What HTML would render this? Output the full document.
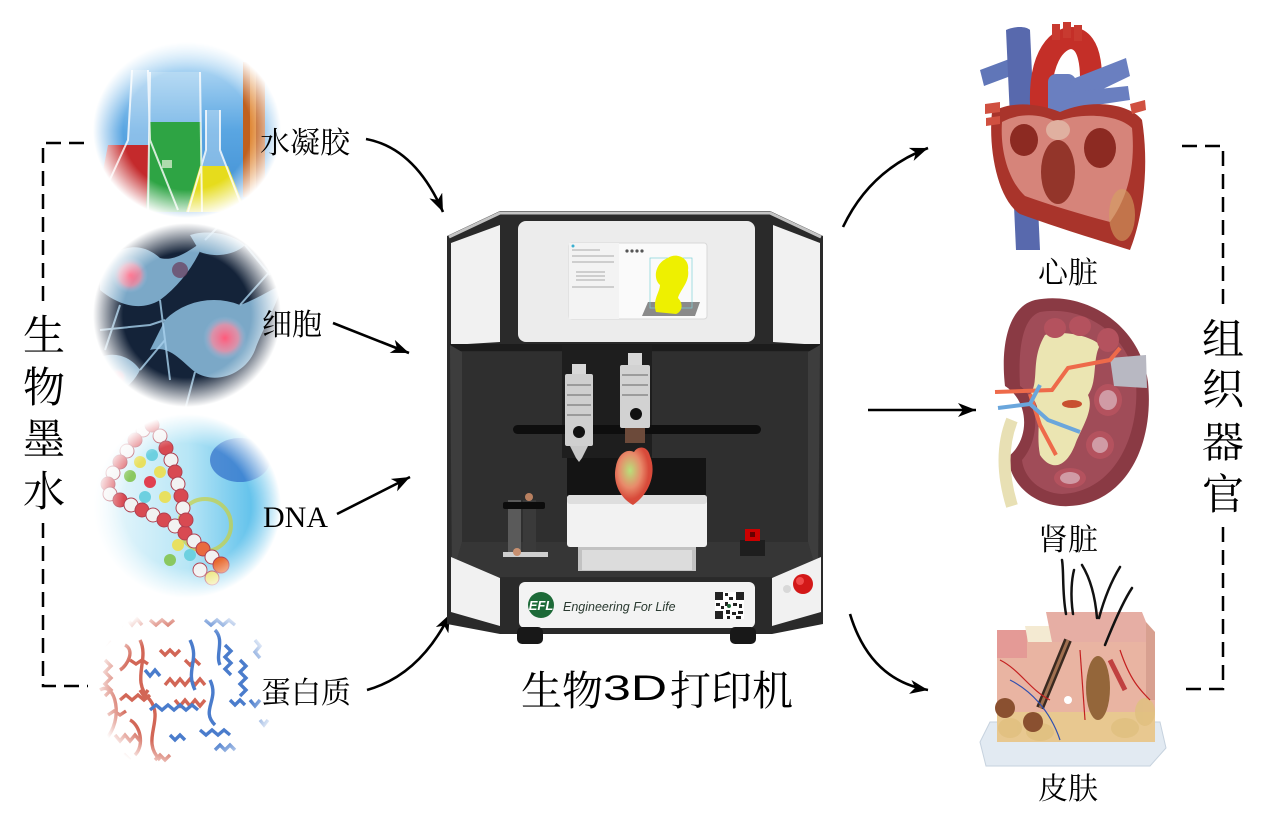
<!DOCTYPE html>
<html><head><meta charset="utf-8">
<style>
html,body{margin:0;padding:0;background:#fff;}
svg{display:block;}
.cjk{font-family:"Liberation Serif","Noto Serif CJK SC",serif;}
</style></head>
<body>
<svg width="1267" height="820" viewBox="0 0 1267 820" xmlns="http://www.w3.org/2000/svg">
<defs>
  <radialGradient id="fade">
    <stop offset="0" stop-color="#fff"/>
    <stop offset="0.68" stop-color="#fff"/>
    <stop offset="1" stop-color="#000"/>
  </radialGradient>
  <mask id="m1" maskContentUnits="userSpaceOnUse"><ellipse cx="187" cy="130" rx="94" ry="88" fill="url(#fade)"/></mask>
  <mask id="m2" maskContentUnits="userSpaceOnUse"><ellipse cx="187" cy="315" rx="94" ry="92" fill="url(#fade)"/></mask>
  <mask id="m3" maskContentUnits="userSpaceOnUse"><ellipse cx="187" cy="506" rx="94" ry="92" fill="url(#fade)"/></mask>
  <mask id="m4" maskContentUnits="userSpaceOnUse"><ellipse cx="187" cy="690" rx="94" ry="88" fill="url(#fade)"/></mask>
  <linearGradient id="sky" x1="0" y1="0" x2="0" y2="1">
    <stop offset="0" stop-color="#cfe9fa"/><stop offset="0.5" stop-color="#5aa6e2"/><stop offset="1" stop-color="#3b8ad0"/>
  </linearGradient>
  <linearGradient id="dnabg" x1="0" y1="0" x2="1" y2="0">
    <stop offset="0" stop-color="#f2fafd"/><stop offset="0.5" stop-color="#b8e6f6"/><stop offset="1" stop-color="#38b0e6"/>
  </linearGradient>
  <radialGradient id="nuc"><stop offset="0" stop-color="#ff5a7a"/><stop offset="0.6" stop-color="#ff8aa0" stop-opacity="0.7"/><stop offset="1" stop-color="#9cc8e8" stop-opacity="0"/></radialGradient>
  <radialGradient id="hrt" cx="0.4" cy="0.4"><stop offset="0" stop-color="#b8e07a"/><stop offset="0.6" stop-color="#e88a6a"/><stop offset="1" stop-color="#d84a3a"/></radialGradient>
  <marker id="ah" markerUnits="userSpaceOnUse" markerWidth="20" markerHeight="16" refX="18" refY="7" orient="auto">
    <path d="M0,0 L18,7 L0,14 L5,7 Z" fill="#000"/>
  </marker>
</defs>

<!-- ============ LEFT CIRCLES ============ -->
<g mask="url(#m1)">
  <rect x="90" y="40" width="195" height="180" fill="url(#sky)"/>
  <rect x="243" y="62" width="22" height="135" fill="#c0601e"/>
  <rect x="250" y="62" width="6" height="135" fill="#e08a3a"/>
  <polygon points="132,70 148,70 150,140 178,210 96,210 128,140" fill="#e8f2fa" opacity="0.35"/>
  <polygon points="108,145 165,145 180,212 95,212" fill="#c42a2c"/>
  <polygon points="150,72 200,72 200,212 148,212" fill="#dff0fa" opacity="0.3"/>
  <polygon points="150,122 201,122 203,212 146,212" fill="#2ea444"/>
  <rect x="162" y="160" width="10" height="8" fill="#cfe8c8" opacity="0.8"/>
  <polygon points="206,110 220,110 220,150 242,212 190,212 206,150" fill="#e6f2fa" opacity="0.35"/>
  <polygon points="200,166 228,166 246,212 186,212" fill="#e6dc1c"/>
  <g fill="none" stroke="#fff" stroke-width="2" opacity="0.8">
    <path d="M132,70 L128,140 L96,210"/><path d="M148,70 L150,140 L178,210"/>
    <path d="M150,72 L148,212"/><path d="M200,72 L202,212"/>
    <path d="M206,110 L206,150 L188,212"/><path d="M220,110 L220,150 L244,212"/>
  </g>
</g>
<g mask="url(#m2)">
  <rect x="90" y="222" width="195" height="190" fill="#142339"/>
  <g fill="#8ec0e0" opacity="0.85">
    <path d="M100,270 C115,245 140,240 160,258 C175,262 190,250 205,240 C195,265 180,285 160,300 C140,312 118,305 100,290 Z"/>
    <path d="M165,320 C185,300 215,295 240,305 C255,300 270,290 282,285 C275,310 262,330 255,350 C245,375 215,385 195,372 C180,360 170,345 150,350 C155,340 160,330 165,320 Z"/>
    <path d="M95,360 C110,350 130,355 140,370 C130,390 110,400 95,395 Z"/>
    <path d="M190,235 C205,230 230,232 245,245 C235,255 215,258 200,252 Z"/>
  </g>
  <g stroke="#a8d2ee" stroke-width="2" fill="none" opacity="0.8">
    <path d="M160,300 L170,380"/><path d="M205,240 L230,215"/><path d="M120,305 L105,350"/>
    <path d="M240,305 L280,260"/><path d="M195,372 L185,410"/><path d="M140,370 L165,340"/>
    <path d="M100,330 L150,325 L165,320"/><path d="M245,245 L270,275"/>
  </g>
  <circle cx="130" cy="275" r="18" fill="url(#nuc)"/>
  <circle cx="225" cy="338" r="22" fill="url(#nuc)"/>
  <circle cx="117" cy="378" r="10" fill="url(#nuc)"/>
  <circle cx="180" cy="270" r="8" fill="#6a3a5a" opacity="0.7"/>
</g>
<g mask="url(#m3)">
  <rect x="90" y="412" width="195" height="190" fill="url(#dnabg)"/>
  <ellipse cx="240" cy="460" rx="30" ry="22" fill="#2f6cc8" opacity="0.7"/>
  <circle cx="205" cy="525" r="26" fill="none" stroke="#c8d040" stroke-width="4" opacity="0.7"/>
  <g fill="#e8e060"><circle cx="140" cy="462" r="6"/><circle cx="160" cy="472" r="6"/><circle cx="165" cy="497" r="6"/><circle cx="178" cy="545" r="6"/></g>
  <g fill="#6cd0e0"><circle cx="152" cy="455" r="6"/><circle cx="145" cy="497" r="6"/><circle cx="190" cy="555" r="6"/></g>
  <g fill="#8ac860"><circle cx="130" cy="476" r="6"/><circle cx="170" cy="560" r="6"/></g>
  <circle cx="150" cy="482" r="6" fill="#e04050"/>
  <g stroke="#b04050" stroke-width="1">
    <circle cx="143" cy="430" r="7" fill="#f2f2f2"/><circle cx="135" cy="440" r="7" fill="#d84a52"/>
    <circle cx="127" cy="451" r="7" fill="#f2f2f2"/><circle cx="120" cy="462" r="7" fill="#d84a52"/>
    <circle cx="113" cy="473" r="7" fill="#f2f2f2"/><circle cx="108" cy="484" r="7" fill="#d84a52"/>
    <circle cx="110" cy="494" r="7" fill="#f2f2f2"/><circle cx="120" cy="500" r="7" fill="#d84a52"/>
    <circle cx="131" cy="505" r="7" fill="#f2f2f2"/><circle cx="142" cy="510" r="7" fill="#d84a52"/>
    <circle cx="153" cy="515" r="7" fill="#f2f2f2"/><circle cx="164" cy="520" r="7" fill="#d84a52"/>
    <circle cx="175" cy="526" r="7" fill="#f2f2f2"/><circle cx="185" cy="533" r="7" fill="#d84a52"/>
    <circle cx="194" cy="541" r="7" fill="#f2f2f2"/><circle cx="203" cy="549" r="7" fill="#e86a40"/>
    <circle cx="212" cy="557" r="7" fill="#f2f2f2"/><circle cx="221" cy="565" r="8" fill="#e86a30"/>
    <circle cx="152" cy="425" r="7" fill="#d84a52"/><circle cx="160" cy="436" r="7" fill="#f2f2f2"/>
    <circle cx="166" cy="448" r="7" fill="#d84a52"/><circle cx="171" cy="460" r="7" fill="#f2f2f2"/>
    <circle cx="175" cy="472" r="7" fill="#d84a52"/><circle cx="178" cy="484" r="7" fill="#f2f2f2"/>
    <circle cx="181" cy="496" r="7" fill="#d84a52"/><circle cx="183" cy="508" r="7" fill="#f2f2f2"/>
    <circle cx="186" cy="520" r="7" fill="#d84a52"/><circle cx="200" cy="570" r="7" fill="#f2f2f2"/>
    <circle cx="212" cy="578" r="7" fill="#e8e060"/>
  </g>
</g>
<g mask="url(#m4)">
  <rect x="90" y="600" width="195" height="180" fill="#fff"/>
  <g fill="none" stroke="#d26656" stroke-width="3.4">
    <path d="M112,625 l5,-6 l5,6 l5,-6 l5,6 l5,-6 l5,6"/>
    <path d="M105,660 l6,6 l-6,6 l6,6 l-6,6 l6,6 l-6,6"/>
    <path d="M120,700 l6,-5 l6,5 l6,-5 l6,5 l6,-5"/>
    <path d="M115,735 l5,6 l5,-6 l5,6 l5,-6 l5,6"/>
    <path d="M140,640 C150,660 130,680 150,700 C165,720 140,740 160,760"/>
    <path d="M165,685 l5,-6 l5,6 l5,-6 l5,6 l5,-6 l5,6 l5,-6 l5,6"/>
    <path d="M175,700 l5,6 l5,-6 l5,6 l5,-6 l5,6 l5,-6"/>
    <path d="M150,620 l6,5 l6,-5 l6,5 l6,-5"/>
    <path d="M100,690 C115,680 125,720 105,740"/>
    <path d="M130,660 l6,4 l6,-4 l6,4"/>
    <path d="M155,760 l5,-5 l5,5 l5,-5"/>
    <path d="M120,760 l5,-5 l5,5"/>
    <path d="M108,715 l6,-4 l6,4 l6,-4"/>
    <path d="M125,645 C135,650 128,665 120,670"/>
    <path d="M160,650 l5,5 l5,-5 l5,5 l5,-5"/>
    <path d="M130,720 C140,725 145,745 135,755"/>
    <path d="M185,660 l5,5 l5,-5 l5,5"/>
    <path d="M100,640 l5,5 l5,-5"/>
    <path d="M140,690 l4,6 l4,-6"/>
  </g>
  <g fill="none" stroke="#4a7ccc" stroke-width="3.4">
    <path d="M205,620 l6,5 l6,-5 l6,5 l6,-5 l6,5"/>
    <path d="M225,645 l6,6 l-6,6 l6,6 l-6,6 l6,6"/>
    <path d="M240,660 l6,6 l-6,6 l6,6 l-6,6 l6,6 l-6,6"/>
    <path d="M150,710 l6,-5 l6,5 l6,-5 l6,5 l6,-5 l6,5 l6,-5 l6,5"/>
    <path d="M200,730 l6,5 l6,-5 l6,5 l6,-5 l6,5"/>
    <path d="M215,750 l5,-5 l5,5 l5,-5 l5,5"/>
    <path d="M210,680 C220,700 200,710 215,725"/>
    <path d="M145,670 l5,6 l5,-6 l5,6"/>
    <path d="M190,640 C200,660 185,670 195,690"/>
    <path d="M250,700 l5,6 l5,-6"/>
    <path d="M255,640 l5,6 l-5,6 l5,6"/>
    <path d="M230,700 l5,5 l5,-5 l5,5"/>
    <path d="M260,720 l4,5 l4,-5"/>
    <path d="M215,630 C225,640 215,655 220,665"/>
    <path d="M170,735 l5,5 l5,-5 l5,5"/>
  </g>
</g>

<!-- ============ BRACKETS + TEXT ============ -->
<g fill="none" stroke="#000" stroke-width="2.5" stroke-dasharray="15 8">
  <path d="M84,143 H43 V304"/>
  <path d="M43,523 V686 H88"/>
  <path d="M1182,146 H1223 V308"/>
  <path d="M1223,527 V689 H1185"/>
</g>
<g class="cjk" font-size="42" text-anchor="middle" fill="#000">
  <text x="44" y="350">生</text><text x="44" y="402">物</text>
  <text x="44" y="454">墨</text><text x="44" y="506">水</text>
  <text x="1223" y="354">组</text><text x="1223" y="404">织</text>
  <text x="1223" y="457">器</text><text x="1223" y="509">官</text>
</g>

<g class="cjk" font-size="30" fill="#000">
  <text x="260" y="153">水凝胶</text>
  <text x="262" y="335">细胞</text>
  <text x="263" y="527" font-family="Liberation Serif, serif">DNA</text>
  <text x="261" y="703">蛋白质</text>
</g>
<g class="cjk" font-size="30" fill="#000" text-anchor="middle">
  <text x="1068" y="283">心脏</text>
  <text x="1068" y="550">肾脏</text>
  <text x="1068" y="799">皮肤</text>
</g>

<g fill="none" stroke="#000" stroke-width="2.6" marker-end="url(#ah)">
  <path d="M366,139 Q415,148 443,212"/>
  <path d="M333,323 L409,353"/>
  <path d="M337,514 L410,477"/>
  <path d="M367,690 Q420,675 450,614"/>
  <path d="M843,227 Q870,170 928,148"/>
  <path d="M868,410 L976,410"/>
  <path d="M850,614 Q870,680 928,690"/>
</g>

<!-- ============ PRINTER ============ -->
<g>
  <polygon points="447,236 500,211 770,211 823,236 823,624 772,634 500,634 447,624" fill="#2a2a2a"/>
  <polyline points="449,237 500,213 770,213 821,237" fill="none" stroke="#c4c4c4" stroke-width="3"/>
  <polygon points="451,243 500,225 500,342 451,345" fill="#f1f1f1"/>
  <polygon points="773,225 820,243 820,345 773,342" fill="#f1f1f1"/>
  <rect x="518" y="221" width="237" height="121" rx="8" fill="#ececec"/>
  <rect x="569" y="243" width="138" height="76" rx="3" fill="#fafafa" stroke="#d8d8d8"/>
  <rect x="569" y="243" width="50" height="76" fill="#f3f3f3"/>
  <g stroke="#aaa" stroke-width="1">
    <line x1="572" y1="250" x2="600" y2="250"/><line x1="572" y1="256" x2="614" y2="256"/>
    <line x1="572" y1="262" x2="614" y2="262"/><line x1="576" y1="272" x2="605" y2="272"/>
    <line x1="576" y1="276" x2="605" y2="276"/><line x1="576" y1="280" x2="605" y2="280"/>
    <line x1="572" y1="287" x2="614" y2="287"/>
  </g>
  <circle cx="573" cy="246" r="1.5" fill="#3ab0d0"/>
  <g fill="#555"><circle cx="627" cy="251" r="1.6"/><circle cx="632" cy="251" r="1.6"/><circle cx="637" cy="251" r="1.6"/><circle cx="642" cy="251" r="1.6"/></g>
  <polygon points="648,302 700,302 695,316 642,316" fill="#8a8a8a"/>
  <rect x="650" y="258" width="42" height="50" fill="none" stroke="#7fd0d8" stroke-width="0.7"/>
  <path d="M656,312 C652,300 660,292 660,285 C652,278 656,262 668,258 C676,252 690,258 688,270 C690,282 680,290 678,298 C684,304 682,312 676,314 Z" fill="#eef000"/>
  <rect x="450" y="344" width="370" height="234" fill="#2b2b2b"/>
  <rect x="450" y="344" width="370" height="7" fill="#1c1c1c"/>
  <rect x="462" y="352" width="346" height="190" fill="#2f2f2f"/>
  <polygon points="462,542 808,542 818,577 452,577" fill="#363636"/>
  <polygon points="450,345 462,352 462,542 452,577" fill="#3d3d3d"/>
  <polygon points="820,345 808,352 808,542 818,577" fill="#3d3d3d"/>
  <rect x="567" y="458" width="139" height="40" fill="#141414"/>
  <rect x="652" y="458" width="54" height="8" fill="#141414"/>
  <rect x="562" y="345" width="90" height="113" fill="#1e1e1e"/>
  <rect x="513" y="425" width="248" height="9" rx="4.5" fill="#0e0e0e"/>
  <rect x="572" y="364" width="14" height="10" fill="#d8d8d8"/>
  <rect x="565" y="374" width="28" height="72" rx="2" fill="#cfcfcf"/>
  <g stroke="#8a8a8a" stroke-width="1.5"><line x1="567" y1="385" x2="591" y2="385"/><line x1="567" y1="395" x2="591" y2="395"/><line x1="567" y1="405" x2="591" y2="405"/><line x1="567" y1="415" x2="591" y2="415"/></g>
  <circle cx="579" cy="432" r="6" fill="#111"/>
  <polygon points="570,446 588,446 582,458 579,462 576,458" fill="#c8c8c8"/>
  <rect x="628" y="353" width="14" height="12" fill="#d8d8d8"/>
  <rect x="620" y="365" width="30" height="63" rx="2" fill="#d2d2d2"/>
  <g stroke="#8a8a8a" stroke-width="1.5"><line x1="622" y1="375" x2="648" y2="375"/><line x1="622" y1="385" x2="648" y2="385"/><line x1="622" y1="395" x2="648" y2="395"/></g>
  <circle cx="636" cy="414" r="6" fill="#111"/>
  <rect x="625" y="428" width="20" height="15" fill="#6c4a3a"/>
  <rect x="578" y="546" width="118" height="25" fill="#c2c2c2"/>
  <rect x="582" y="550" width="110" height="20" fill="#dcdcdc"/>
  <rect x="567" y="495" width="140" height="52" rx="3" fill="#f2f2f2"/>
  <rect x="567" y="495" width="140" height="9" rx="3" fill="#dedede"/>
  <path d="M633,505 C620,498 612,482 616,466 C618,455 626,448 634,452 C638,445 648,446 650,456 C656,470 652,492 633,505 Z" fill="url(#hrt)"/>
  <rect x="508" y="500" width="13" height="52" fill="#5a5a5a"/>
  <rect x="523" y="500" width="13" height="52" fill="#3a3a3a"/>
  <rect x="503" y="502" width="42" height="7" rx="2" fill="#0c0c0c"/>
  <circle cx="529" cy="497" r="4" fill="#b88060"/>
  <rect x="503" y="552" width="45" height="5" fill="#cfcfcf"/>
  <circle cx="517" cy="552" r="4" fill="#c89070"/>
  <rect x="740" y="540" width="25" height="16" fill="#1e1e1e"/>
  <rect x="745" y="529" width="15" height="12" fill="#c00"/>
  <rect x="750" y="532" width="5" height="5" fill="#600"/>
  <polygon points="451,557 500,578 500,626 451,612" fill="#f1f1f1"/>
  <polygon points="772,578 821,557 821,612 772,626" fill="#f1f1f1"/>
  <circle cx="787" cy="589" r="4" fill="#d8d8d8"/>
  <circle cx="803" cy="584" r="10" fill="#d31818"/>
  <circle cx="800" cy="581" r="4" fill="#f04a4a"/>
  <rect x="519" y="582" width="236" height="46" rx="6" fill="#f3f3f3"/>
  <circle cx="541" cy="605" r="13" fill="#1d6a38"/>
  <text x="541" y="610" font-family="Liberation Sans, sans-serif" font-size="13" font-weight="bold" font-style="italic" fill="#fff" text-anchor="middle">EFL</text>
  <text x="563" y="611" font-family="Liberation Sans, sans-serif" font-size="12.5" font-style="italic" fill="#2a3a30">Engineering For Life</text>
  <rect x="715" y="592" width="29" height="27" fill="#fff"/>
  <g fill="#222">
    <rect x="715" y="592" width="8" height="8"/><rect x="736" y="592" width="8" height="8"/><rect x="715" y="611" width="8" height="8"/>
    <rect x="725" y="593" width="3" height="3"/><rect x="729" y="597" width="4" height="3"/><rect x="725" y="602" width="3" height="4"/>
    <rect x="733" y="603" width="4" height="3"/><rect x="739" y="604" width="3" height="4"/><rect x="716" y="603" width="4" height="3"/>
    <rect x="726" y="610" width="4" height="4"/><rect x="732" y="612" width="4" height="3"/><rect x="738" y="611" width="5" height="3"/>
    <rect x="727" y="616" width="3" height="3"/><rect x="736" y="616" width="5" height="3"/><rect x="721" y="606" width="3" height="3"/>
  </g>
  <circle cx="729" cy="606" r="2" fill="#1d6a38"/>
  <rect x="517" y="627" width="26" height="17" rx="5" fill="#181818"/>
  <rect x="730" y="627" width="26" height="17" rx="5" fill="#181818"/>
</g>

<!-- title -->
<g font-size="41" fill="#000">
  <text class="cjk" x="521" y="705">生物</text>
  <text x="603" y="700" font-family="Liberation Sans, sans-serif" font-size="35" textLength="64" lengthAdjust="spacingAndGlyphs">3D</text>
  <text class="cjk" x="670" y="705">打印机</text>
</g>

<!-- ============ HEART ============ -->
<g>
  <path d="M980,70 L1012,58 L1016,74 L984,86 Z" fill="#6076b8"/>
  <path d="M1006,30 C1015,26 1026,26 1030,30 L1040,250 L1016,250 Z" fill="#5869ad"/>
  <path d="M1042,118 C1036,60 1056,38 1072,38 C1092,40 1094,74 1088,112" fill="none" stroke="#c42f28" stroke-width="22"/>
  <rect x="1052" y="24" width="8" height="16" fill="#c83a30"/><rect x="1063" y="22" width="8" height="16" fill="#c83a30"/><rect x="1074" y="25" width="8" height="16" fill="#c83a30"/>
  <rect x="1048" y="74" width="28" height="70" rx="8" fill="#6a7fc0"/>
  <path d="M1070,80 L1126,58 L1130,76 L1076,102 Z" fill="#6a7fc0"/>
  <path d="M1070,92 L1128,86 L1130,100 L1076,108 Z" fill="#6a7fc0"/>
  <path d="M992,112 C1012,100 1040,104 1060,112 C1092,98 1130,104 1142,120 C1150,170 1142,220 1130,250 C1098,240 1058,228 1020,214 C998,200 988,150 992,112 Z" fill="#a9342b"/>
  <path d="M1002,122 C1020,112 1042,114 1056,122 C1080,112 1118,114 1132,128 C1136,170 1126,200 1110,222 C1080,214 1050,205 1025,196 C1008,180 1000,150 1002,122 Z" fill="#d6847a"/>
  <ellipse cx="1024" cy="140" rx="14" ry="16" fill="#8c2a22"/>
  <ellipse cx="1058" cy="172" rx="17" ry="32" fill="#93352a"/>
  <ellipse cx="1100" cy="148" rx="16" ry="20" fill="#8c2a22"/>
  <ellipse cx="1058" cy="130" rx="12" ry="10" fill="#e0b0a0"/>
  <ellipse cx="1122" cy="215" rx="13" ry="26" fill="#d4a060" opacity="0.6"/>
  <path d="M985,104 L1000,102 L1000,112 L985,114 Z" fill="#d05040"/>
  <path d="M986,118 L1000,116 L1000,124 L986,126 Z" fill="#d05040"/>
  <path d="M1130,104 L1145,100 L1146,110 L1132,114 Z" fill="#d05040"/>
</g>

<!-- ============ KIDNEY ============ -->
<g>
  <path d="M1035,300 C1082,290 1140,322 1148,382 C1155,452 1120,510 1060,506 C1030,503 1010,482 1008,457 C1030,440 1030,402 1005,386 C1000,342 1010,306 1035,300 Z" fill="#8a3a44"/>
  <path d="M1040,312 C1080,305 1128,330 1136,382 C1140,440 1112,492 1062,494 C1040,493 1024,478 1022,460 C1040,440 1040,400 1020,386 C1018,350 1022,318 1040,312 Z" fill="#a04c58"/>
  <path d="M1045,335 C1060,330 1090,335 1100,345 C1092,360 1098,380 1088,395 C1095,410 1080,430 1075,445 C1065,470 1050,470 1040,455 C1035,430 1045,410 1030,395 C1040,380 1030,360 1045,335 Z" fill="#ebe5b2"/>
  <g fill="#b4525e"><ellipse cx="1055" cy="328" rx="11" ry="10"/><ellipse cx="1080" cy="326" rx="11" ry="10"/><ellipse cx="1108" cy="340" rx="11" ry="12"/><ellipse cx="1108" cy="400" rx="14" ry="16"/><ellipse cx="1100" cy="445" rx="14" ry="14"/><ellipse cx="1070" cy="478" rx="16" ry="10"/></g>
  <g fill="#e8d8e0" opacity="0.55"><ellipse cx="1108" cy="400" rx="9" ry="10"/><ellipse cx="1070" cy="478" rx="10" ry="6"/><ellipse cx="1100" cy="445" rx="8" ry="8"/></g>
  <polygon points="1110,358 1146,355 1147,388 1114,386" fill="#b8b8c2"/>
  <path d="M1012,420 C1000,450 1004,480 1012,506" fill="none" stroke="#e8e0b4" stroke-width="12"/>
  <g fill="none" stroke="#ee6a4a" stroke-width="4">
    <path d="M995,392 L1052,390 L1068,368 L1110,360 L1120,348"/>
    <path d="M1030,394 L1040,425 L1056,455"/>
  </g>
  <g fill="none" stroke="#6aa6dc" stroke-width="4">
    <path d="M998,408 L1030,404 L1048,420 L1080,432"/>
    <path d="M1030,404 L1040,385"/>
  </g>
  <ellipse cx="1072" cy="404" rx="10" ry="4" fill="#c85030"/>
</g>

<!-- ============ SKIN ============ -->
<g>
  <polygon points="990,722 1160,722 1166,748 1150,766 986,766 980,742" fill="#e2eaf2" stroke="#c6d2de"/>
  <polygon points="997,700 1155,700 1155,742 997,742" fill="#e8c890"/>
  <rect x="997" y="632" width="158" height="80" fill="#e9b4a2"/>
  <rect x="997" y="630" width="30" height="28" fill="#e49a96"/>
  <polygon points="1025,626 1050,626 1055,642 1028,642" fill="#f4ead2"/>
  <polygon points="1046,612 1142,612 1146,622 1146,642 1052,642" fill="#e6aea4"/>
  <polygon points="1146,622 1155,632 1155,700 1146,700" fill="#d8a090"/>
  <g fill="#e0c080" opacity="0.85"><ellipse cx="1010" cy="728" rx="12" ry="10"/><ellipse cx="1040" cy="732" rx="14" ry="9"/><ellipse cx="1125" cy="728" rx="14" ry="10"/><ellipse cx="1145" cy="712" rx="10" ry="14"/></g>
  <ellipse cx="1098" cy="688" rx="12" ry="32" fill="#94663a"/>
  <path d="M1040,708 L1068,640" stroke="#3a2a20" stroke-width="8"/>
  <path d="M1040,708 L1068,640" stroke="#a07050" stroke-width="3"/>
  <circle cx="1005" cy="708" r="10" fill="#8a5030"/>
  <circle cx="1033" cy="722" r="10" fill="#8a5030"/>
  <circle cx="1068" cy="700" r="4" fill="#fff"/>
  <g fill="none" stroke="#c42020" stroke-width="1.2">
    <path d="M1000,660 C1020,670 1030,690 1050,700"/><path d="M1120,650 C1130,680 1140,690 1150,700"/><path d="M1080,650 L1085,720"/>
  </g>
  <g fill="none" stroke="#3050b0" stroke-width="1.2"><path d="M1010,680 C1030,690 1050,710 1060,740"/></g>
  <path d="M1110,660 L1125,690" stroke="#c04040" stroke-width="5"/>
  <g fill="none" stroke="#111" stroke-width="2.5" stroke-linecap="round">
    <path d="M1066,614 C1062,592 1064,572 1062,560"/>
    <path d="M1073,614 C1070,594 1072,578 1074,570"/>
    <path d="M1097,618 C1095,594 1090,578 1082,565"/>
    <path d="M1099,618 C1105,596 1112,580 1120,567"/>
    <path d="M1105,645 C1115,620 1124,600 1132,588"/>
  </g>
</g>
</svg>
</body></html>
